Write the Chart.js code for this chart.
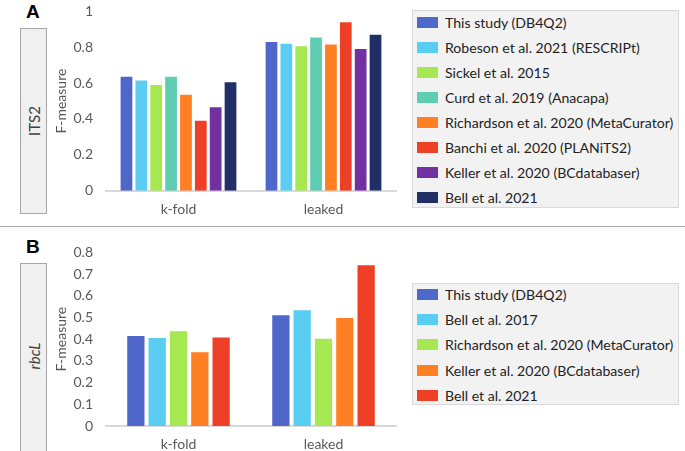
<!DOCTYPE html>
<html>
<head>
<meta charset="utf-8">
<script src="https://cdn.jsdelivr.net/npm/chart.js@4.4.1/dist/chart.umd.min.js"></script>
<style>
  body { margin: 0; width: 685px; height: 451px; overflow: hidden; background: #fff; position: relative; font-family: Lato, "Open Sans", sans-serif; }
  .abs { position: absolute; }
  .panel-letter { font: bold 19px "Liberation Sans", Arial, sans-serif; color: #000; }
  .sidebox { background: #f0f0f0; border: 1.5px solid #a6a6a6; box-sizing: border-box; }
  .sidebox span { position: absolute; left: 50%; top: 50%; transform: translate(-50%, -50%) rotate(-90deg); font-size: 15px; color: #404040; white-space: nowrap; }
  .legend { background: #f2f2f2; border: 1px solid #d9d9d9; box-sizing: border-box; }
  .legend .row { position: absolute; left: 4px; height: 14px; display: flex; align-items: center; font-size: 14.1px; color: #222; white-space: nowrap; }
  .legend .sw { width: 21px; height: 11px; margin-right: 7px; }
  .sep { left: 0; width: 685px; top: 225.5px; height: 1.5px; background: #a6a6a6; }
</style>
</head>
<body>
<div class="abs panel-letter" style="left:26px; top:1px;">A</div>
<div class="abs sidebox" style="left:20px; top:28px; width:27px; height:186px;"><span>ITS2</span></div>
<div class="abs sep"></div>
<div class="abs panel-letter" style="left:26px; top:236px;">B</div>
<div class="abs sidebox" style="left:20px; top:263px; width:27px; height:200px;"><span style="top:92px; font-style:italic;">rbcL</span></div>

<canvas id="chartA" class="abs" style="left:50px; top:-10px;" width="350" height="232"></canvas>
<canvas id="chartB" class="abs" style="left:50px; top:231px;" width="350" height="225"></canvas>

<div id="legendA" class="abs legend" style="left:412px; top:10px; width:267px; height:198px;"></div>
<div id="legendB" class="abs legend" style="left:412px; top:283px; width:267px; height:122px;"></div>

<script>
// categories
const groups = ['k-fold', 'leaked'];

// panel A (ITS2)
const itsLabels = ['This study (DB4Q2)', 'Robeson et al. 2021 (RESCRIPt)', 'Sickel et al. 2015',
  'Curd et al. 2019 (Anacapa)', 'Richardson et al. 2020 (MetaCurator)', 'Banchi et al. 2020 (PLANiTS2)',
  'Keller et al. 2020 (BCdatabaser)', 'Bell et al. 2021'];
const itsColors = ['#4f67c9', '#5acdf2', '#a6e851', '#5ecdb2', '#ff7f22', '#ee4026', '#7131a0', '#203066'];
const itsKfold = [0.635, 0.615, 0.59, 0.635, 0.535, 0.39, 0.465, 0.605];
const itsLeaked = [0.83, 0.82, 0.805, 0.855, 0.815, 0.94, 0.79, 0.87];

// panel B (rbcL)
const rbcLabels = ['This study (DB4Q2)', 'Bell et al. 2017', 'Richardson et al. 2020 (MetaCurator)',
  'Keller et al. 2020 (BCdatabaser)', 'Bell et al. 2021'];
const rbcColors = ['#4f67c9', '#5acdf2', '#a6e851', '#ff7f22', '#ee4026'];
const rbcKfold = [0.415, 0.405, 0.437, 0.34, 0.408];
const rbcLeaked = [0.51, 0.533, 0.402, 0.498, 0.741];

const tickFont = { family: 'Lato', size: 14 };

const makeChart = (id, labels, colors, kfold, leaked, yMax, step, catPct, barPct, xAxisH, topPad) => {
  let ctx = document.getElementById(id).getContext('2d');
  return new Chart(ctx, {
    type: 'bar',
    data: {
      labels: groups,
      datasets: labels.map((lab, i) => ({
        label: lab,
        data: [kfold[i], leaked[i]],
        backgroundColor: colors[i],
        borderWidth: 0,
        categoryPercentage: catPct,
        barPercentage: barPct,
      }))
    },
    options: {
      responsive: false,
      animation: false,
      layout: { padding: { top: topPad, right: 4, left: 0, bottom: 0 } },
      plugins: { legend: { display: false }, tooltip: { enabled: false } },
      scales: {
        x: {
          grid: { display: false, drawTicks: false },
          border: { color: '#d9d9d9', width: 2 },
          ticks: { color: '#595959', font: tickFont, padding: 10 },
          afterFit: s => { s.height = xAxisH }
        },
        y: {
          min: 0, max: yMax,
          grid: { display: false, drawTicks: false },
          border: { display: false },
          ticks: { stepSize: step, color: '#595959', font: tickFont, padding: 13,
            callback: v => String(+v.toFixed(2)) },
          title: { display: true, text: 'F-measure', color: '#595959', font: tickFont, padding: { top: 3, bottom: 4 } },
          afterFit: s => { s.width = 56 }
        }
      }
    }
  });
}

const makeLegend = (id, labels, colors, firstY, gap) => {
  let box = document.getElementById(id);
  labels.forEach((lab, i) => {
    let row = document.createElement('div');
    row.className = 'row';
    row.style.top = (firstY + i * gap - 7) + 'px';
    row.innerHTML = '<div class="sw" style="background:' + colors[i] + '"></div>' + lab;
    box.appendChild(row);
  });
}

makeChart('chartA', itsLabels, itsColors, itsKfold, itsLeaked, 1, 0.2, 0.82, 0.79, 31.3, 16);
makeChart('chartB', rbcLabels, rbcColors, rbcKfold, rbcLeaked, 0.8, 0.1, 0.735, 0.81, 30, 10.7);
makeLegend('legendA', itsLabels, itsColors, 11, 25.1);
makeLegend('legendB', rbcLabels, rbcColors, 10.5, 25.2);
</script>
</body>
</html>
